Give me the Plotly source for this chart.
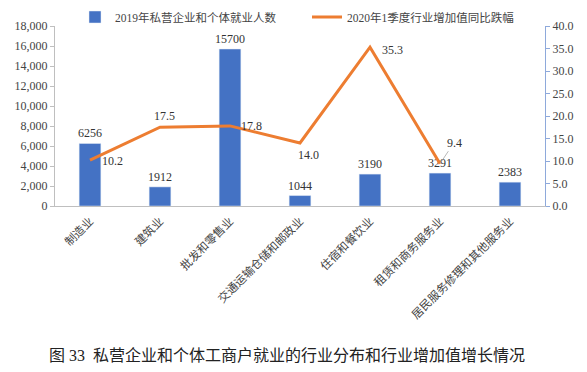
import plotly.graph_objects as go

categories = ["制造业", "建筑业", "批发和零售业", "交通运输仓储和邮政业", "住宿和餐饮业", "租赁和商务服务业", "居民服务修理和其他服务业"]
employment_2019 = [6256, 1912, 15700, 1044, 3190, 3291, 2383]
decline_2020q1 = [10.2, 17.5, 17.8, 14.0, 35.3, 9.4, None]
bar_name = "2019年私营企业和个体就业人数"
line_name = "2020年1季度行业增加值同比跌幅"
caption = "图 33  私营企业和个体工商户就业的行业分布和行业增加值增长情况"

FONT = "Liberation Serif, Noto Sans CJK SC"
# label offsets (px) for the line's data labels
label_dx = [22, 4, 21, 8, 22, 14]
label_dy = [-1, 11, 0, -12, -3, 21]

fig = go.Figure()
fig.add_trace(go.Bar(
    x=categories, y=employment_2019, name=bar_name, legend="legend",
    marker_color="#4472C4", width=0.31,
    text=[str(v) for v in employment_2019], textposition="outside",
    constraintext="none",
    textfont=dict(size=12, color="#333333", family=FONT), cliponaxis=False,
))
fig.add_trace(go.Scatter(
    x=categories, y=decline_2020q1, name=line_name, yaxis="y2", legend="legend2",
    mode="lines", line=dict(color="#ED7D31", width=3), cliponaxis=False,
))

annotations = []
for i, v in enumerate(decline_2020q1):
    if v is None:
        continue
    if i == 5:
        annotations.append(dict(x=categories[i], y=v, xref="x", yref="y2",
                                text=f"{v:.1f}", showarrow=True, arrowhead=0,
                                arrowwidth=0.8, arrowcolor="#A6A6A6",
                                ax=label_dx[i], ay=-label_dy[i],
                                xanchor="center", yanchor="middle",
                                font=dict(size=12, color="#333333", family=FONT)))
    else:
        annotations.append(dict(x=categories[i], y=v, xref="x", yref="y2",
                                text=f"{v:.1f}", showarrow=False,
                                xshift=label_dx[i], yshift=label_dy[i],
                                font=dict(size=12, color="#333333", family=FONT)))

annotations.append(dict(text=caption, xref="paper", yref="paper", x=-0.016, y=-0.828,
                        xanchor="left", yanchor="middle", showarrow=False,
                        font=dict(size=16, color="#222222", family=FONT)))

legend_common = dict(orientation="h", xanchor="left", yanchor="middle", y=1.05,
                     bgcolor="rgba(0,0,0,0)", itemwidth=30,
                     font=dict(size=11.5, color="#444444", family=FONT))

fig.update_layout(
    width=587, height=372,
    margin=dict(l=55, r=42, t=26, b=166, autoexpand=False),
    paper_bgcolor="white", plot_bgcolor="white",
    font=dict(family=FONT, size=12, color="#444444"),
    showlegend=True,
    legend=dict(legend_common, xref="container", x=75 / 587),
    legend2=dict(legend_common, xref="container", x=307 / 587),
    xaxis=dict(showline=True, linecolor="#BFBFBF", tickangle=-45, ticks="",
               ticklabelstandoff=3,
               tickfont=dict(size=11.5, color="#444444"), showgrid=False),
    yaxis=dict(range=[0, 18000], dtick=2000, tickformat=",", showgrid=False,
               showline=True, linecolor="#BFBFBF", ticks="outside", ticklen=4,
               tickcolor="#BFBFBF", tickfont=dict(size=12, color="#444444"), zeroline=False),
    yaxis2=dict(range=[0, 40], dtick=5, tickformat=".1f", overlaying="y", side="right",
                showgrid=False, showline=True, linecolor="#8EA9DB", ticks="outside",
                ticklen=4, tickcolor="#8EA9DB", tickfont=dict(size=12, color="#444444"),
                zeroline=False),
    annotations=annotations,
)

fig.write_html("out.html", config={"displayModeBar": False},
               post_script="document.body.style.margin='0';")
